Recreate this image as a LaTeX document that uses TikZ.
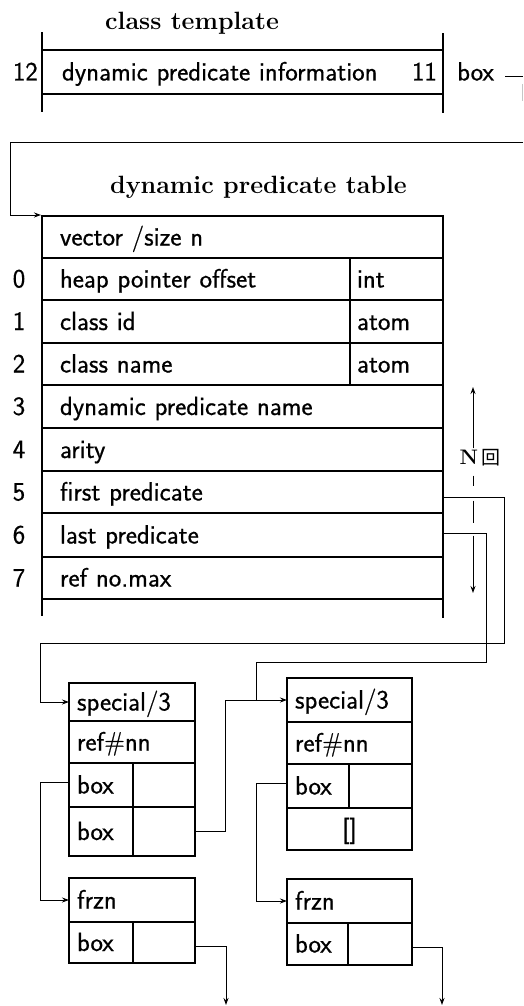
\documentclass[tikz,border=0pt]{standalone}
\usepackage{fontspec}
\newfontfamily\cjkfont{Noto Sans CJK SC}
\newfontfamily\cellfam{lmsans17-regular.otf}[UprightFeatures={FakeBold=0.6}]
\usetikzlibrary{arrows.meta,calc}
\newcommand{\cellfont}{\cellfam\fontsize{26.5}{30}\selectfont}
\newcommand{\titlefont}{\bfseries\fontsize{25}{29}\selectfont}
\begin{document}
\begin{tikzpicture}[x=1pt,y=-1pt,
  cellbox/.style={draw, line width=2.3pt, outer sep=0pt, anchor=north west, inner ysep=0pt,
                  text height=19pt, text depth=2pt, font=\cellfont, align=left},
  lg/.style={inner xsep=18pt},
  sm/.style={inner xsep=8pt},
  tp/.style={inner xsep=7pt},
  frame/.style={line width=2.3pt},
  idx/.style={font=\cellfont, text height=19pt, text depth=2pt, inner sep=0pt},
  conn/.style={line width=1pt},
  arr/.style={-{Stealth[length=7pt,width=5pt]}},
  ttl/.style={font=\titlefont, anchor=base west, inner sep=0pt}]
\useasboundingbox (0,0) rectangle (523,1006);

% ---------- class template ----------
\node[ttl] (title1) at (105,30) {class template};
\node[cellbox, inner xsep=20pt, text width=361pt, minimum height=44pt] (ct) at (42,50) {dynamic predicate information};
\draw[frame] (ct.north west) -- ++(0,-18);
\draw[frame] (ct.south west) -- ++(0,18);
\draw[frame] (ct.north east) -- ++(0,-17);
\draw[frame] (ct.south east) -- ++(0,19);
\node[idx, anchor=east] (n12) at ($(ct.west)+(-4,0)$) {12};
\node[idx, anchor=east] (n11) at ($(ct.east)+(-6,0)$) {11};
\node[idx, anchor=west] (boxlbl) at ($(ct.east)+(14,0)$) {box};
\coordinate (outA) at (523,77);
\coordinate (inA) at (523,142);
\draw[conn] ($(boxlbl.east)+(11,5)$) -- (outA);
\draw[gray!45, line width=0.8pt] (522,84) -- (522,101);

% ---------- dynamic predicate table ----------
\node[ttl] (title2) at (110,193) {dynamic predicate table};
\node[cellbox, lg, text width=365pt, minimum height=42pt] (tv) at (42,216) {vector /size n};
\draw[conn,arr] (inA) -| ($(tv.north west)+(-32,-1)$) -- ($(tv.north west)+(-1,-1)$);

\node[cellbox, lg, text width=272pt, minimum height=42pt] (r0a) at (42,258) {heap pointer offset};
\node[cellbox, tp, text width=79pt, minimum height=42pt] (r0b) at (350,258) {int};
\node[cellbox, lg, text width=272pt, minimum height=43pt] (r1a) at (42,300) {class id};
\node[cellbox, tp, text width=79pt, minimum height=43pt] (r1b) at (350,300) {atom};
\node[cellbox, lg, text width=272pt, minimum height=42pt] (r2a) at (42,343) {class name};
\node[cellbox, tp, text width=79pt, minimum height=42pt] (r2b) at (350,343) {atom};
\node[cellbox, lg, text width=365pt, minimum height=43pt] (r3) at (42,385) {dynamic predicate name};
\node[cellbox, lg, text width=365pt, minimum height=43pt] (r4) at (42,428) {arity};
\node[cellbox, lg, text width=365pt, minimum height=42pt] (r5) at (42,471) {first predicate};
\node[cellbox, lg, text width=365pt, minimum height=44pt] (r6) at (42,513) {last predicate};
\node[cellbox, lg, text width=365pt, minimum height=42pt] (r7) at (42,557) {ref no.max};
\draw[frame] (r7.south west) -- ++(0,17);
\draw[frame] (r7.south east) -- ++(0,19);

\node[idx] (i0) at ($(r0a.west)+(-23,0)$) {0};
\node[idx] (i1) at ($(r1a.west)+(-23,0)$) {1};
\node[idx] (i2) at ($(r2a.west)+(-23,0)$) {2};
\node[idx] (i3) at ($(r3.west)+(-23,0)$) {3};
\node[idx] (i4) at ($(r4.west)+(-23,0)$) {4};
\node[idx] (i5) at ($(r5.west)+(-23,0)$) {5};
\node[idx] (i6) at ($(r6.west)+(-23,0)$) {6};
\node[idx] (i7) at ($(r7.west)+(-23,0)$) {7};

% ---------- N arrow ----------
\node[font=\bfseries\fontsize{21}{24}\selectfont, inner sep=1pt] (nl) at (480,458) {N\,{\cjkfont\mdseries\fontsize{19}{21}\selectfont 回}};
\coordinate (nTop) at (473,387);
\coordinate (nBot) at (473,593);
\coordinate (nDash) at ($(nl.south)+(0,8)$);
\draw[conn,arr] (nl.north -| nTop) -- (nTop);
\draw[conn,arr,dash pattern=on 10pt off 15pt on 22pt off 13pt on 60pt off 0pt] (nDash -| nBot) -- (nBot);

% ---------- first structure ----------
\node[cellbox, sm, text width=110pt, minimum height=38pt] (b1s) at (69,683) {special/3};
\node[cellbox, sm, text width=110pt, minimum height=42pt] (b1r) at (69,721) {ref\#nn};
\node[cellbox, sm, text width=48pt, minimum height=44pt] (b1c) at (69,763) {box};
\node[cellbox, sm, text width=46pt, minimum height=44pt] (b1cr) at (133,763) {};
\node[cellbox, sm, text width=48pt, minimum height=49pt] (b1e) at (69,807) {box};
\node[cellbox, sm, text width=46pt, minimum height=49pt] (b1d) at (133,807) {};

\node[cellbox, sm, text width=110pt, minimum height=44pt] (f1a) at (69,878) {frzn};
\node[cellbox, sm, text width=48pt, minimum height=41pt] (f1b) at (69,922) {box};
\node[cellbox, sm, text width=46pt, minimum height=41pt] (f1c) at (133,922) {};

% ---------- second structure ----------
\node[cellbox, sm, text width=109pt, minimum height=44pt] (b2s) at (287,678) {special/3};
\node[cellbox, sm, text width=109pt, minimum height=42pt] (b2r) at (287,722) {ref\#nn};
\node[cellbox, sm, text width=46pt, minimum height=44pt] (b2c) at (287,764) {box};
\node[cellbox, sm, text width=47pt, minimum height=44pt] (b2cr) at (349,764) {};
\node[cellbox, sm, text width=109pt, minimum height=42pt, align=center] (b2n) at (287,808) {[]};

\node[cellbox, sm, text width=109pt, minimum height=44pt] (f2a) at (287,879) {frzn};
\node[cellbox, sm, text width=45pt, minimum height=42pt] (f2b) at (287,923) {box};
\node[cellbox, sm, text width=48pt, minimum height=42pt] (f2c) at (348,923) {};

% ---------- connectors ----------
\coordinate (jn) at ($(b2s.west)+(-31,0)$);
\coordinate (end1) at (226,1005);
\coordinate (end2) at (442,1005);
\draw[conn,arr] ($(r5.east)+(0,5)$) -- ++(61,0) -- ++(0,146) -| ($(b1s.west)+(-29,0)$) -- (b1s.west);
\draw[conn] ($(r6.east)+(0,-2)$) -- ++(43,0) -- ++(0,129) -| (jn);
\draw[conn,arr] (b1d.east) -- ++(30,0) |- (b2s.west);
\draw[conn,arr] ($(b1c.west)+(0,-3)$) -- ++(-29,0) |- (f1a.west);
\draw[conn,arr] ($(b2c.west)+(0,-3)$) -- ++(-31,0) |- (f2a.west);
\draw[conn,arr] ($(f1c.east)+(0,4)$) -| (end1);
\draw[conn,arr] ($(f2c.east)+(0,3)$) -| (end2);
\end{tikzpicture}
\end{document}
